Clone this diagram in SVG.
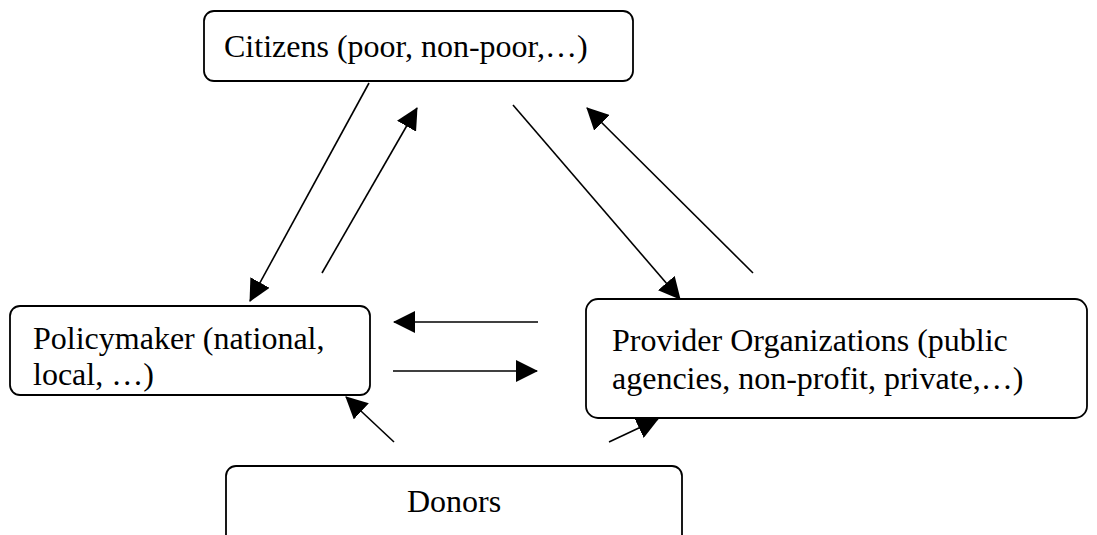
<svg xmlns="http://www.w3.org/2000/svg" width="1097" height="535" viewBox="0 0 1097 535">
<style>
.box{fill:#fff;stroke:#000;stroke-width:1.8}
text{font-family:'Liberation Serif','Times New Roman',serif;font-size:32px;fill:#000}
.c{stroke:#000;stroke-width:1.6;fill:none;marker-end:url(#ah)}
</style>
<defs>
<marker id="ah" markerUnits="userSpaceOnUse" markerWidth="22" markerHeight="22" viewBox="0 0 22 22" refX="21" refY="11" orient="auto">
<path d="M0,0 L22,11 L0,22 z" fill="#000"/>
</marker>
</defs>
<rect width="1097" height="535" fill="#fff"/>
<g id="citizens">
<rect class="box" x="204" y="11" width="429" height="70" rx="10"/>
<text x="224" y="57">Citizens (poor, non-poor,…)</text>
</g>
<g id="policymaker">
<rect class="box" x="10" y="306" width="360" height="89" rx="10"/>
<text x="33" y="349">Policymaker (national,</text>
<text x="33" y="385">local, …)</text>
</g>
<g id="provider">
<rect class="box" x="586" y="299" width="501" height="119" rx="12"/>
<text x="612" y="351">Provider Organizations (public</text>
<text x="612" y="389">agencies, non-profit, private,…)</text>
</g>
<g id="donors">
<rect class="box" x="226" y="466" width="456" height="80" rx="10"/>
<text x="454" y="512" text-anchor="middle">Donors</text>
</g>
<g id="connectors">
<line class="c" x1="369" y1="83" x2="250" y2="301"/>
<line class="c" x1="322" y1="273" x2="417" y2="108"/>
<line class="c" x1="513" y1="105" x2="680" y2="299"/>
<line class="c" x1="753" y1="273" x2="587" y2="108"/>
<line class="c" x1="538" y1="322" x2="394" y2="322"/>
<line class="c" x1="393" y1="371" x2="537" y2="371"/>
<line class="c" x1="394" y1="442" x2="346" y2="397"/>
<line class="c" x1="609" y1="442" x2="658" y2="419"/>
</g>
</svg>
